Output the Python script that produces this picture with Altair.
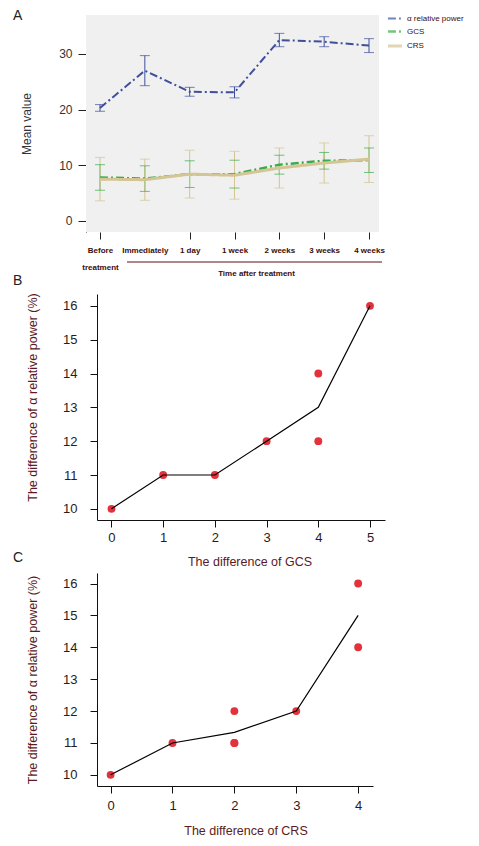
import altair as alt
import pandas as pd

# ---------------- data ----------------
times = ["Before treatment", "Immediately", "1 day", "1 week", "2 weeks", "3 weeks", "4 weeks"]
series = ["α relative power", "GCS", "CRS"]
alpha_mean = [20.3, 27.0, 23.2, 23.1, 32.5, 32.2, 31.5]
alpha_err = [0.6, 2.7, 0.8, 1.0, 1.2, 0.9, 1.25]
gcs_mean = [7.8, 7.6, 8.4, 8.4, 10.1, 10.8, 10.9]
gcs_err = [2.3, 2.3, 2.4, 2.5, 1.7, 1.5, 2.2]
crs_mean = [7.5, 7.4, 8.4, 8.2, 9.5, 10.4, 11.1]
crs_err = [3.9, 3.7, 4.3, 4.3, 3.6, 3.6, 4.2]

gcs_diff = [0, 1, 2, 3, 4, 4, 5]
alpha_diff_gcs = [10, 11, 11, 12, 14, 12, 16]
crs_diff = [0, 1, 2, 2, 2, 3, 4, 4]
alpha_diff_crs = [10, 11, 11, 12, 11, 12, 16, 14]

letters = ["A", "B", "C"]

# ---------------- styles ----------------
FONT = "Liberation Sans"
BLUE, GREEN, TAN = "#3f4f9b", "#3aab48", "#d3c594"
MAROON = "#3a0c0c"
TITLE_RED = "#5c1a22"
RED = "#e2323c"

rows = []
for s, means, errs in zip(series, [alpha_mean, gcs_mean, crs_mean], [alpha_err, gcs_err, crs_err]):
    for i, (t, m, e) in enumerate(zip(times, means, errs)):
        rows.append({"series": s, "time": t, "idx": i, "mean": m, "lo": m - e, "hi": m + e})
dfA = pd.DataFrame(rows)

color_scale = alt.Scale(domain=series, range=[BLUE, GREEN, TAN])
dash_scale = alt.Scale(domain=series, range=[[8, 3, 2, 3], [8, 3, 2, 3], [1, 0]])
width_scale = alt.Scale(domain=series, range=[2, 3, 3])

# panel A is drawn 11px left of the shared plot origin of the stacked panels
SHIFT = 11
WA, HA = 282, 217

leg = alt.Legend(
    title=None, orient="none", legendX=289, legendY=-5, symbolType="stroke",
    symbolSize=200, rowPadding=0, padding=0, labelFontSize=8, labelColor=MAROON,
    labelFont=FONT, labelOffset=3,
)

xA = alt.X(
    "time:N",
    sort=times,
    scale=alt.Scale(type="point", domain=times, range=[3, 272], padding=0),
    axis=alt.Axis(
        title="Time after treatment", titleFontSize=8, titleFontWeight="bold",
        titleColor=MAROON, titleX=159, titleY=41, titleBaseline="middle",
        labelExpr="datum.value == 'Before treatment' ? ['Before', 'treatment'] : datum.value",
        labelFontSize=8, labelFontWeight="bold", labelColor=MAROON, labelLineHeight=17,
        labelPadding=7, labelAngle=0, labelBaseline="top", tickSize=7, tickColor="#222",
        tickOpacity={"condition": {"test": "datum.value === 'Immediately'", "value": 0}, "value": 1},
        domain=False, grid=False,
    ),
)
yscaleA = alt.Scale(domain=[-2, 37], nice=False, zero=False)
yaxisA = alt.Axis(
    values=[0, 10, 20, 30], title="Mean value", titleFontSize=12, titleFontWeight="normal",
    titleColor="#333", titlePadding=25, labelFontSize=12, labelColor="#333", labelPadding=6,
    tickSize=8, tickColor="#222", domainColor="#222", grid=False, offset=SHIFT,
)

color_enc = alt.Color("series:N", scale=color_scale, legend=leg, sort=series)

dummy = pd.DataFrame({"k": [0]})
backdrop = alt.Chart(dummy).mark_rect(color="#f0f0f0").encode(
    x=alt.value(-SHIFT), x2=alt.value(WA), y=alt.value(0), y2=alt.value(HA)
)

base = alt.Chart(dfA).encode(x=xA)
whisk = base.mark_rule(strokeWidth=1).encode(
    y=alt.Y("lo:Q", scale=yscaleA, axis=yaxisA), y2="hi:Q", color=color_enc,
)
caps_lo = base.mark_tick(size=10, thickness=1, orient="horizontal").encode(
    y=alt.Y("lo:Q", scale=yscaleA, axis=yaxisA), color=color_enc,
)
caps_hi = base.mark_tick(size=10, thickness=1, orient="horizontal").encode(
    y=alt.Y("hi:Q", scale=yscaleA, axis=yaxisA), color=color_enc,
)
lines = base.mark_line().encode(
    y=alt.Y("mean:Q", scale=yscaleA, axis=yaxisA),
    color=color_enc,
    strokeDash=alt.StrokeDash("series:N", scale=dash_scale, legend=leg, sort=series),
    strokeWidth=alt.StrokeWidth("series:N", scale=width_scale, legend=leg, sort=series),
    order=alt.Order("idx:Q"),
)

bracket = alt.Chart(dummy).mark_rule(color="#5a1010", strokeWidth=1).encode(
    x=alt.value(30), x2=alt.value(285), y=alt.value(247)
)


def letter(ch, dx, dy):
    return alt.Chart(pd.DataFrame({"t": [ch]})).mark_text(
        align="left", baseline="middle", fontSize=14, color="#222", font=FONT
    ).encode(text="t:N", x=alt.value(dx), y=alt.value(dy))


chartA = alt.layer(
    backdrop, whisk, caps_lo, caps_hi, lines, bracket, letter(letters[0], -84, 0.5)
).properties(width=WA, height=HA)


def scatter_panel(xs, ys, xtitle, xdom, ydom, xvals, w, h, titleX, xtitlePad, xlabelPad, ytitleY, ch, dy):
    df = pd.DataFrame({"x": xs, "y": ys})
    xaxis = alt.Axis(
        values=xvals, title=xtitle, titleFontSize=12.5, titleFontWeight="normal", titleColor=TITLE_RED,
        titlePadding=xtitlePad, titleX=titleX, labelFontSize=13, labelColor="#2b1a1a",
        labelPadding=xlabelPad, tickSize=7, tickColor="#111", domainColor="#111", grid=False,
    )
    yargs = dict(
        values=list(range(10, 17)), title="The difference of α relative power (%)", titleFontSize=12.5,
        titleFontWeight="normal", titleColor=TITLE_RED, titlePadding=23, labelFontSize=13,
        labelColor="#2b1a1a", labelPadding=13, tickSize=7, tickColor="#111", domainColor="#111", grid=False,
    )
    if ytitleY is not None:
        yargs["titleY"] = ytitleY
    yaxis = alt.Axis(**yargs)
    xenc = alt.X("x:Q", scale=alt.Scale(domain=xdom, nice=False, zero=False), axis=xaxis)
    yscale = alt.Scale(domain=ydom, nice=False, zero=False)
    pts = alt.Chart(df).mark_circle(size=62, color=RED, opacity=1).encode(
        x=xenc, y=alt.Y("y:Q", scale=yscale, axis=yaxis)
    )
    ln = alt.Chart(df).mark_line(color="#000", strokeWidth=1.2).encode(
        x=xenc, y=alt.Y("mean(y):Q", scale=yscale, axis=yaxis)
    )
    return alt.layer(pts, ln, letter(ch, -84, dy)).properties(width=w, height=h)


chartB = scatter_panel(gcs_diff, alpha_diff_gcs, "The difference of GCS", [-0.28, 5.29], [9.67, 16.35],
                       [0, 1, 2, 3, 4, 5], 288, 226, 152.5, 11, 4, 103, letters[1], -13)
chartC = scatter_panel(crs_diff, alpha_diff_crs, "The difference of CRS", [-0.22, 4.24], [9.65, 16.33],
                       [0, 1, 2, 3, 4], 276, 213, 148.5, 12, 6, None, letters[2], -15)

chart = alt.vconcat(
    chartA, alt.vconcat(chartB, chartC, spacing=-17), spacing=-3,
    padding={"left": 5, "top": 0, "right": 0, "bottom": 0},
).configure(font=FONT).configure_view(stroke=None)

chart.save("out.html", embed_options={"renderer": "svg", "actions": False})
